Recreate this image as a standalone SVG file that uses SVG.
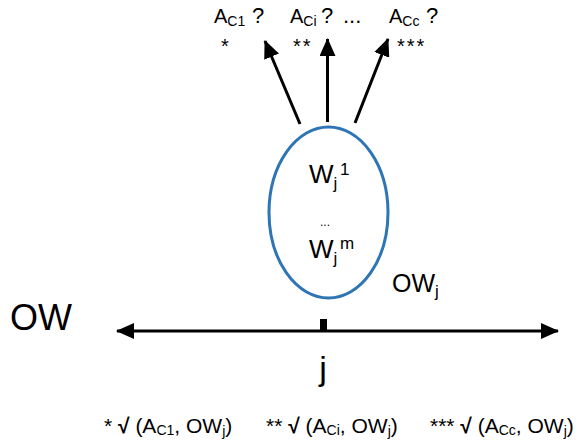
<svg xmlns="http://www.w3.org/2000/svg" width="587" height="442" viewBox="0 0 587 442">
<style>
text{font-family:"Liberation Sans","Open Sans",sans-serif;fill:#000}
.lbl{font-size:20px}
.sub{font-size:14px}
.q{font-size:22px}
.star{font-size:20px;letter-spacing:2px}
.arr{stroke:#000;stroke-width:3;fill:none}
.w{font-size:26px}
.ws{font-size:17px}
.bt{font-size:21px}
.bs{font-size:14px}
</style>
<defs>
<marker id="ah" viewBox="0 0 18 16" refX="17" refY="8" markerWidth="18" markerHeight="16" markerUnits="userSpaceOnUse" orient="auto-start-reverse">
<path d="M0,0 L18,8 L0,16 Z" fill="#000"/>
</marker>
</defs>
<rect width="587" height="442" fill="#fff"/>
<g id="connectors">
<line class="arr" x1="300" y1="124" x2="265" y2="41" marker-end="url(#ah)"/>
<line class="arr" x1="327.5" y1="122" x2="327.5" y2="39" marker-end="url(#ah)"/>
<line class="arr" x1="355" y1="123" x2="388" y2="39" marker-end="url(#ah)"/>
<line class="arr" x1="117" y1="331" x2="558" y2="331" marker-start="url(#ah)" marker-end="url(#ah)"/>
<rect x="320" y="319" width="7" height="12" fill="#000"/>
</g>
<g id="node-ac1">
<text class="lbl" x="214" y="23">A<tspan class="sub" dy="3">C1</tspan></text>
<text class="q" x="252" y="23">?</text>
<text class="star" x="221" y="53">*</text>
</g>
<g id="node-aci">
<text class="lbl" x="290" y="23">A<tspan class="sub" dy="3">Ci</tspan></text>
<text class="q" x="321" y="23">?</text>
<text class="q" x="343" y="23">...</text>
<text class="star" x="293" y="53">**</text>
</g>
<g id="node-acc">
<text class="lbl" x="389" y="23">A<tspan class="sub" dy="3">Cc</tspan></text>
<text class="q" x="426" y="23">?</text>
<text class="star" x="397" y="53">***</text>
</g>
<g id="node-ellipse">
<ellipse cx="328.5" cy="212.5" rx="59.5" ry="85.5" fill="none" stroke="#2E75B6" stroke-width="3"/>
<text class="w" x="309" y="183">W<tspan class="ws" dy="6">j</tspan><tspan class="ws" x="340" dy="-14">1</tspan></text>
<text x="320" y="226" font-size="12">...</text>
<text class="w" x="309" y="258">W<tspan class="ws" dy="6">j</tspan><tspan class="ws" x="340" dy="-15">m</tspan></text>
</g>
<g id="node-owj">
<text x="392" y="292" font-size="25">OW<tspan font-size="17" dy="5">j</tspan></text>
</g>
<g id="node-ow">
<text x="10" y="330" font-size="36">OW</text>
</g>
<g id="node-j">
<text x="323" y="380" font-size="34" text-anchor="middle">j</text>
</g>
<g id="legend">
<text class="bt" x="104" y="433">* <tspan font-weight="bold">√</tspan> (A<tspan class="bs" dy="2">C1</tspan><tspan dy="-2">, OW</tspan><tspan class="bs" dy="3">j</tspan><tspan dy="-3">)</tspan></text>
<text class="bt" x="266" y="433">** <tspan font-weight="bold">√</tspan> (A<tspan class="bs" dy="2">Ci</tspan><tspan dy="-2">, OW</tspan><tspan class="bs" dy="3">j</tspan><tspan dy="-3">)</tspan></text>
<text class="bt" x="430" y="433">*** <tspan font-weight="bold">√</tspan> (A<tspan class="bs" dy="2">Cc</tspan><tspan dy="-2">, OW</tspan><tspan class="bs" dy="3">j</tspan><tspan dy="-3">)</tspan></text>
</g>
</svg>
